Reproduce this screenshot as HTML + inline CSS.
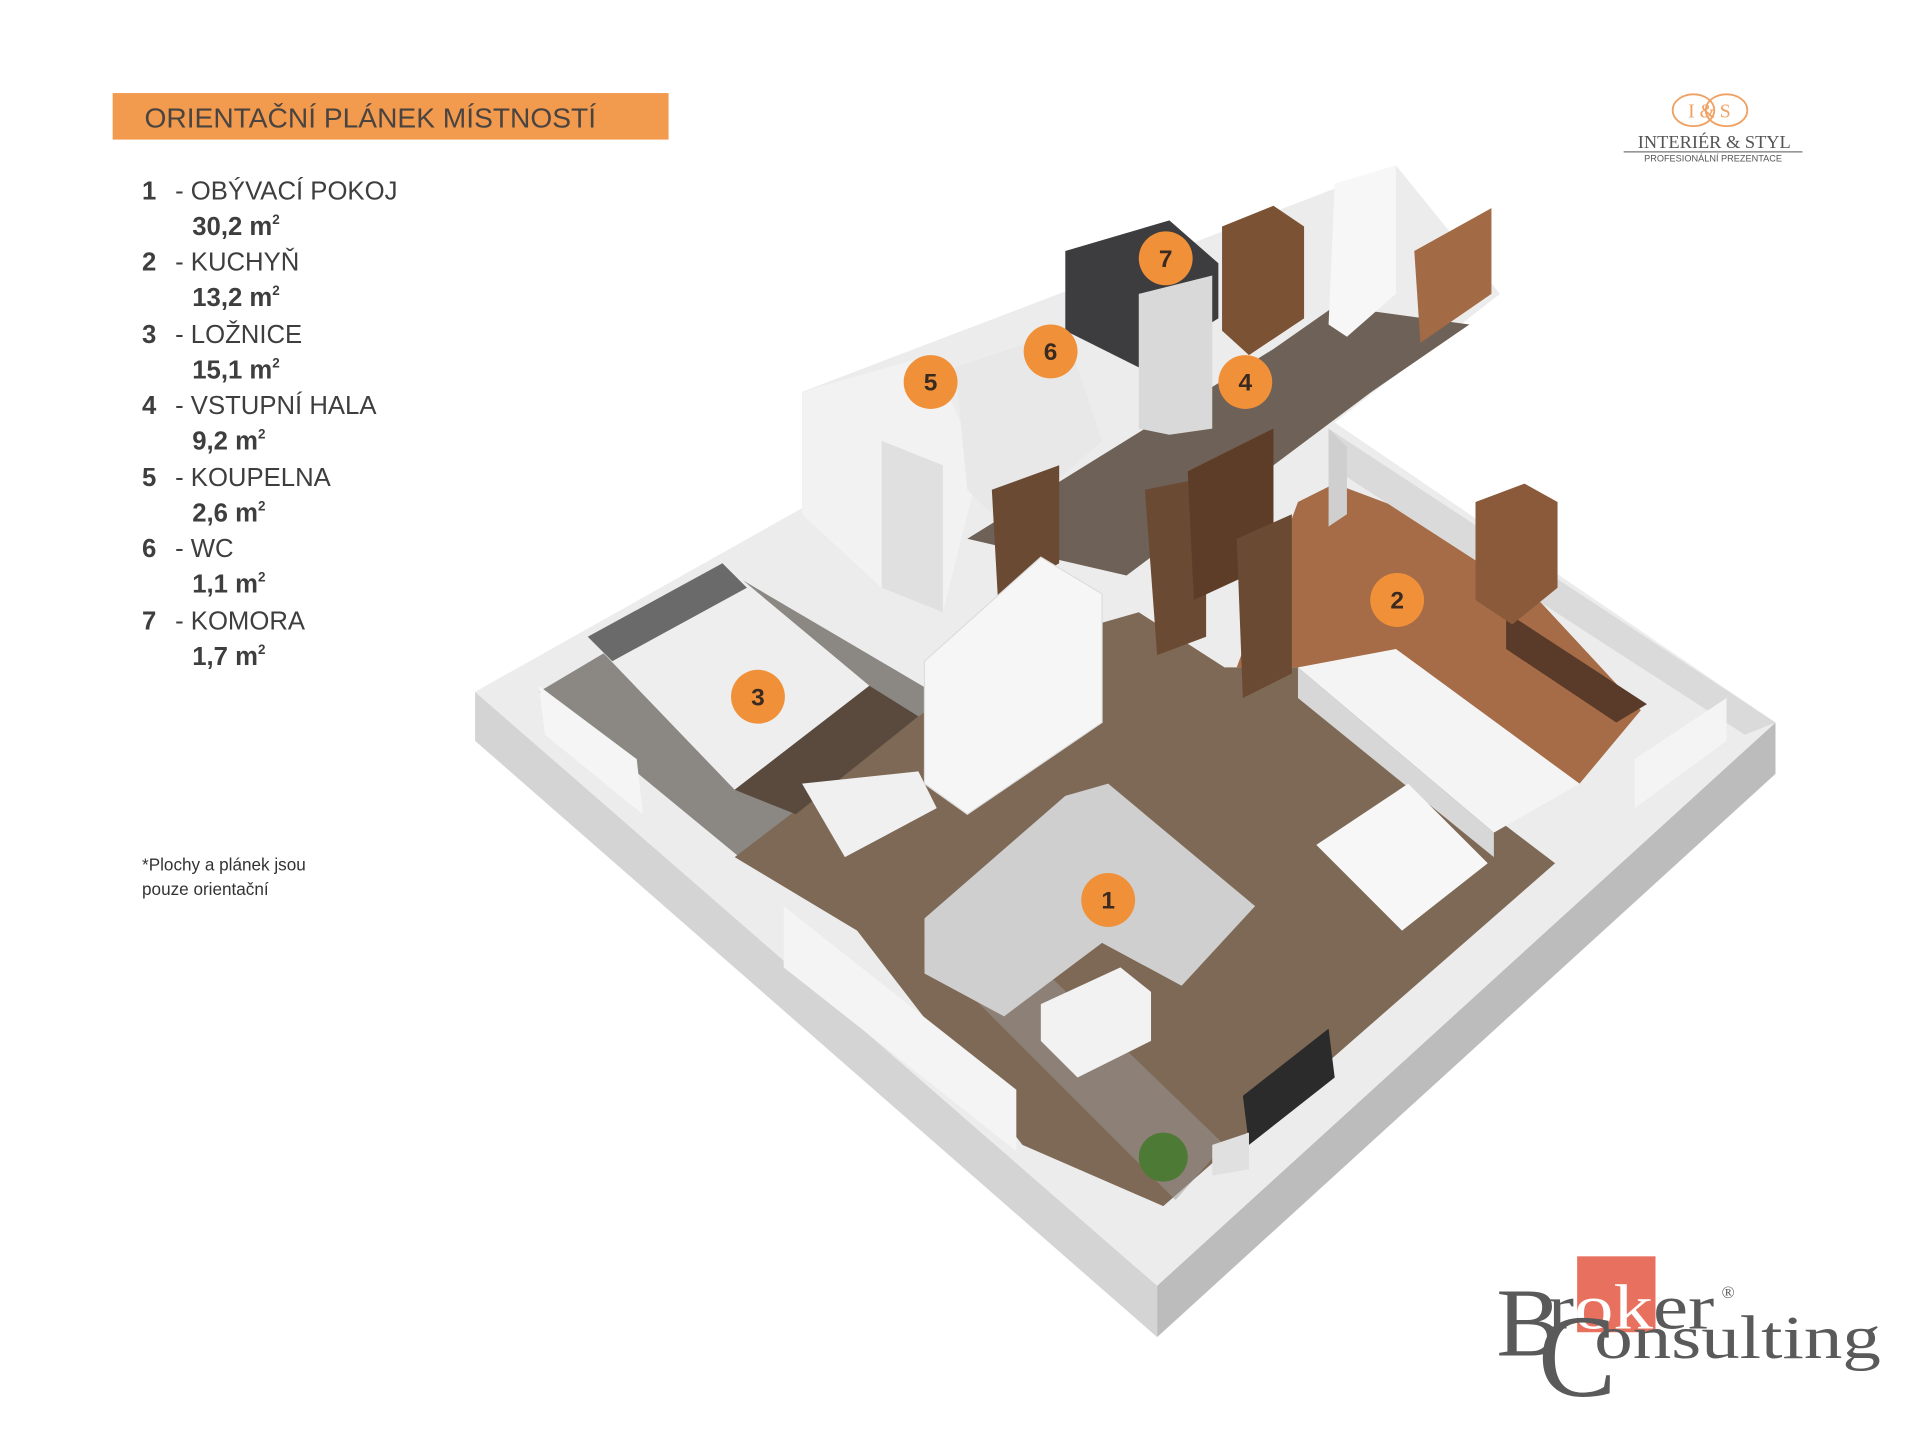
<!DOCTYPE html>
<html><head><meta charset="utf-8"><style>
html,body{margin:0;padding:0;background:#fff;}
svg{display:block;}
</style></head><body>
<svg width="1920" height="1440" viewBox="0 0 1568 1176" xmlns="http://www.w3.org/2000/svg" font-family="Liberation Sans, sans-serif">
<rect width="1568" height="1176" fill="#fff"/>
<rect x="92" y="76" width="454" height="38" fill="#f29a4e"/>
<text x="118" y="104" font-size="23" fill="#4a4440">ORIENTAČNÍ PLÁNEK MÍSTNOSTÍ</text>
<g font-size="21" fill="#3e3e3e">
<g font-weight="bold"><text x="116" y="163">1</text><text x="116" y="221">2</text><text x="116" y="280">3</text><text x="116" y="338">4</text><text x="116" y="397">5</text><text x="116" y="455">6</text><text x="116" y="514">7</text></g>
<text x="143" y="163">- OBÝVACÍ POKOJ</text>
<text x="143" y="221">- KUCHYŇ</text>
<text x="143" y="280">- LOŽNICE</text>
<text x="143" y="338">- VSTUPNÍ HALA</text>
<text x="143" y="397">- KOUPELNA</text>
<text x="143" y="455">- WC</text>
<text x="143" y="514">- KOMORA</text>
<g font-weight="bold">
<text x="157" y="192">30,2 m<tspan font-size="11" dy="-9">2</tspan></text>
<text x="157" y="250">13,2 m<tspan font-size="11" dy="-9">2</tspan></text>
<text x="157" y="309">15,1 m<tspan font-size="11" dy="-9">2</tspan></text>
<text x="157" y="367">9,2 m<tspan font-size="11" dy="-9">2</tspan></text>
<text x="157" y="426">2,6 m<tspan font-size="11" dy="-9">2</tspan></text>
<text x="157" y="484">1,1 m<tspan font-size="11" dy="-9">2</tspan></text>
<text x="157" y="543">1,7 m<tspan font-size="11" dy="-9">2</tspan></text>
</g></g>
<text x="116" y="711" font-size="14" fill="#333">*Plochy  a plánek jsou</text>
<text x="116" y="731" font-size="14" fill="#333">pouze orientační</text>
<ellipse cx="1383" cy="90" rx="17" ry="13" fill="none" stroke="#f0a060" stroke-width="1.5"/>
<ellipse cx="1410" cy="90" rx="17" ry="13" fill="none" stroke="#f0a060" stroke-width="1.5"/>
<text x="1396" y="96" font-size="16" fill="#f0a060" text-anchor="middle" font-family="Liberation Serif, serif">I &amp; S</text>
<text x="1400" y="121" font-size="15" fill="#555" text-anchor="middle" font-family="Liberation Serif, serif">INTERIÉR &amp; STYL</text>
<line x1="1326" y1="124" x2="1472" y2="124" stroke="#777" stroke-width="1"/>
<text x="1399" y="132" font-size="7.5" fill="#555" text-anchor="middle">PROFESIONÁLNÍ PREZENTACE</text>
<polygon points="388,565 945,1050 945,1092 388,605" fill="#d4d4d4"/>
<polygon points="945,1050 1450,590 1450,632 945,1092" fill="#bcbcbc"/>
<polygon points="388,565 655,415 655,320 1140,135 1225,240 1090,345 1450,590 945,1050" fill="#ececec"/>
<polygon points="440,565 600,470 770,570 610,705" fill="#8b8884"/>
<polygon points="600,700 770,570 860,520 930,500 1000,545 1060,545 1270,705 950,985 835,935 700,760" fill="#7e6956"/>
<polygon points="1010,545 1060,410 1090,395 1210,440 1340,580 1290,640 1060,545" fill="#a66c47"/>
<polygon points="790,440 1040,285 1090,250 1200,265 1120,320 920,470" fill="#6e6157"/>
<polygon points="1085,350 1450,590 1425,600 1085,380" fill="#dadada"/>
<polygon points="1085,350 1085,430 1100,420 1100,365" fill="#cfcfcf"/>
<polygon points="1060,545 1140,530 1290,640 1220,680" fill="#f4f4f4"/>
<polygon points="1060,545 1220,680 1220,700 1060,570" fill="#d7d7d7"/>
<polygon points="1230,500 1345,575 1320,590 1230,530" fill="#5a3a28"/>
<polygon points="1205,410 1245,395 1272,410 1272,480 1235,510 1205,490" fill="#8a5a3a"/>
<polygon points="655,320 760,290 800,380 770,500 720,480 655,420" fill="#f2f2f2"/>
<polygon points="720,480 770,500 770,380 720,360" fill="#e0e0e0"/>
<polygon points="780,300 870,270 900,360 820,430 790,400" fill="#e8e8e8"/>
<polygon points="870,205 955,180 995,215 995,260 930,300 870,270" fill="#3d3d3f"/>
<polygon points="930,240 990,225 990,350 955,355 930,350" fill="#d9d9d9"/>
<polygon points="998,185 1040,168 1065,185 1065,260 1020,290 998,270" fill="#7b5234"/>
<polygon points="1090,150 1140,135 1140,240 1100,275 1085,265" fill="#f7f7f7"/>
<polygon points="1155,205 1218,170 1218,240 1160,280" fill="#a36b45"/>
<polygon points="810,400 865,380 865,460 815,490" fill="#6b4a33"/>
<polygon points="935,400 985,390 985,520 945,535" fill="#6b4a33"/>
<polygon points="970,385 1040,350 1040,460 975,490" fill="#5d3d28"/>
<polygon points="1010,440 1055,420 1055,550 1015,570" fill="#6b4a33"/>
<polygon points="480,520 590,460 710,560 600,645" fill="#eeeeee"/>
<polygon points="480,520 590,460 610,480 500,540" fill="#6a6a6a"/>
<polygon points="600,645 710,560 750,585 650,665" fill="#5a4a3e"/>
<polygon points="440,560 520,620 525,665 445,600" fill="#f5f5f5"/>
<polygon points="655,640 750,630 765,660 690,700" fill="#f0f0f0"/>
<polygon points="755,540 850,455 900,485 900,590 790,665 755,640" fill="#f6f6f6" stroke="#ddd"/>
<polygon points="790,810 960,980 1000,935 850,790" fill="#9b9895" opacity=".5"/>
<polygon points="755,750 870,650 905,640 1025,740 965,805 900,770 820,830 755,795" fill="#cfcfcf"/>
<polygon points="850,820 915,790 940,810 940,850 880,880 850,850" fill="#f2f2f2"/>
<polygon points="1075,690 1150,640 1215,705 1145,760" fill="#f7f7f7"/>
<polygon points="1015,895 1085,840 1090,880 1020,935" fill="#2b2b2b"/>
<polygon points="990,935 1020,925 1020,955 990,960" fill="#e0e0e0"/>
<circle cx="950" cy="945" r="20" fill="#4d7a35"/>
<polygon points="640,740 830,890 830,940 640,790" fill="#f4f4f4"/>
<polygon points="1335,620 1410,570 1410,605 1335,660" fill="#f4f4f4"/>
<g fill="#f0913a">
<circle cx="952" cy="211" r="22"/><circle cx="858" cy="287" r="22"/><circle cx="760" cy="312" r="22"/>
<circle cx="1017" cy="312" r="22"/><circle cx="1141" cy="490" r="22"/><circle cx="619" cy="569" r="22"/><circle cx="905" cy="735" r="22"/>
</g>
<g fill="#3a2a20" font-size="20" font-weight="bold" text-anchor="middle">
<text x="952" y="218">7</text><text x="858" y="294">6</text><text x="760" y="319">5</text>
<text x="1017" y="319">4</text><text x="1141" y="497">2</text><text x="619" y="576">3</text><text x="905" y="742">1</text>
</g>
<rect x="1288" y="1026" width="64" height="62" fill="#e8705e"/>
<g font-family="Liberation Serif, serif" fill="#5a5a5a">
<text x="1222" y="1107" font-size="80">B</text>
<text x="1264" y="1085" font-size="52" textLength="136" lengthAdjust="spacingAndGlyphs">r<tspan fill="#fff">ok</tspan>er</text>
<text x="1256" y="1140" font-size="96">C</text>
<text x="1302" y="1109" font-size="50" textLength="234" lengthAdjust="spacingAndGlyphs">onsulting</text>
<text x="1406" y="1060" font-size="14">®</text>
</g>
</svg>
</body></html>
